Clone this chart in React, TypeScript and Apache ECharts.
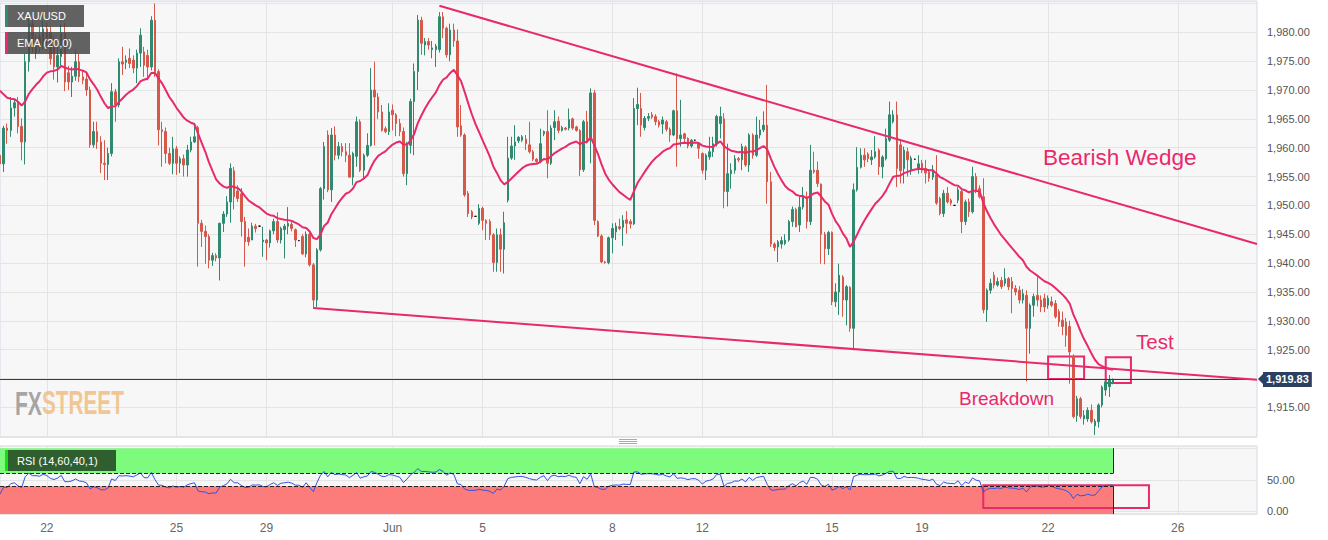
import React, { useEffect, useRef } from "react";
import * as echarts from "echarts";

// 2-hour candles: [open, close, low, high]
const candles: number[][] = [
  [1958.7, 1957.2, 1954.4, 1960.2], [1957.2, 1963.4, 1955.8, 1963.8], [1963.4, 1963.0, 1960.7, 1964.2], [1963.0, 1966.9, 1961.9, 1968.8],
  [1966.9, 1967.8, 1965.4, 1968.5], [1967.8, 1963.7, 1962.5, 1968.8], [1963.7, 1961.0, 1957.8, 1965.1], [1961.0, 1974.9, 1957.1, 1976.3],
  [1974.9, 1981.5, 1973.2, 1983.0], [1981.5, 1978.1, 1976.5, 1982.8], [1976.5, 1978.0, 1975.4, 1979.5], [1979.2, 1977.4, 1976.6, 1981.0],
  [1977.8, 1980.6, 1977.0, 1982.0], [1980.6, 1979.0, 1976.8, 1981.6], [1980.0, 1975.4, 1974.4, 1981.0], [1977.4, 1974.0, 1971.8, 1979.4],
  [1974.0, 1976.0, 1971.3, 1978.0], [1975.8, 1979.8, 1974.2, 1981.4], [1979.8, 1971.4, 1969.8, 1981.6], [1973.0, 1971.4, 1970.0, 1974.2],
  [1971.4, 1972.4, 1968.8, 1974.0], [1972.4, 1974.9, 1971.6, 1977.0], [1974.9, 1972.3, 1971.4, 1976.3], [1972.3, 1971.7, 1971.0, 1973.4],
  [1971.9, 1970.0, 1969.0, 1973.0], [1970.0, 1960.5, 1960.0, 1970.6], [1960.5, 1962.8, 1960.0, 1964.5], [1962.8, 1961.0, 1959.8, 1964.5],
  [1961.0, 1957.3, 1955.6, 1962.0], [1957.3, 1957.1, 1954.4, 1961.3], [1957.1, 1959.0, 1954.4, 1960.0], [1959.0, 1969.7, 1958.5, 1971.2],
  [1969.7, 1967.4, 1964.5, 1970.2], [1967.4, 1974.9, 1967.0, 1975.5], [1974.9, 1974.5, 1972.6, 1977.5], [1974.8, 1975.2, 1973.6, 1976.0],
  [1975.5, 1974.6, 1973.8, 1977.2], [1975.2, 1973.8, 1972.9, 1976.0], [1973.8, 1976.4, 1971.2, 1977.0], [1976.4, 1979.5, 1974.0, 1980.7],
  [1976.6, 1974.3, 1972.3, 1977.5], [1976.0, 1974.0, 1971.7, 1977.0], [1974.0, 1982.1, 1973.4, 1982.8], [1982.1, 1973.2, 1972.3, 1985.0],
  [1973.2, 1963.1, 1960.4, 1973.6], [1963.1, 1962.8, 1956.7, 1964.5], [1962.8, 1959.0, 1957.3, 1963.5], [1959.0, 1957.3, 1957.0, 1960.0],
  [1957.3, 1959.8, 1955.4, 1961.9], [1959.8, 1957.3, 1955.3, 1960.3], [1957.3, 1958.1, 1955.6, 1958.5], [1958.1, 1957.0, 1955.0, 1958.8],
  [1957.0, 1959.6, 1955.0, 1960.5], [1959.6, 1961.0, 1959.2, 1961.9], [1961.0, 1961.9, 1960.8, 1963.7], [1963.5, 1946.9, 1939.4, 1963.8],
  [1946.9, 1945.5, 1942.8, 1947.5], [1945.5, 1944.6, 1939.9, 1946.5], [1944.6, 1940.5, 1939.1, 1945.0], [1940.5, 1941.3, 1939.5, 1941.8],
  [1941.3, 1940.9, 1940.3, 1941.7], [1940.9, 1946.9, 1937.0, 1947.0], [1946.9, 1948.5, 1945.4, 1949.0], [1948.5, 1950.6, 1948.0, 1951.6],
  [1950.6, 1956.4, 1947.0, 1957.3], [1956.0, 1951.5, 1949.3, 1956.7], [1952.5, 1951.2, 1950.6, 1953.5], [1952.0, 1947.2, 1944.6, 1953.0],
  [1947.2, 1943.7, 1939.4, 1948.0], [1944.5, 1943.7, 1943.0, 1946.0], [1944.0, 1946.4, 1944.0, 1947.0], [1946.4, 1946.0, 1945.3, 1946.8],
  [1946.4, 1946.4, 1946.3, 1946.5], [1943.7, 1944.0, 1941.1, 1946.3], [1944.0, 1943.5, 1940.5, 1944.2], [1943.5, 1945.6, 1942.7, 1945.8],
  [1945.6, 1947.2, 1945.0, 1947.7], [1947.2, 1944.0, 1943.5, 1948.8], [1944.0, 1946.0, 1943.4, 1946.3], [1945.8, 1946.4, 1940.8, 1946.8],
  [1946.4, 1946.9, 1945.0, 1949.7], [1946.7, 1946.0, 1945.5, 1947.2], [1945.8, 1944.0, 1942.8, 1946.0], [1943.9, 1943.9, 1943.8, 1944.0],
  [1944.6, 1941.6, 1941.4, 1945.0], [1941.6, 1945.0, 1941.0, 1945.5], [1945.0, 1939.7, 1939.4, 1945.3], [1939.7, 1933.6, 1932.1, 1940.0],
  [1933.6, 1942.3, 1932.4, 1942.6], [1942.3, 1952.9, 1942.0, 1953.2], [1952.9, 1960.2, 1951.0, 1961.0], [1962.2, 1952.7, 1952.3, 1963.0],
  [1952.7, 1962.2, 1950.6, 1963.4], [1962.2, 1958.7, 1957.8, 1963.7], [1958.7, 1960.2, 1958.0, 1961.0], [1960.2, 1959.3, 1958.5, 1960.8],
  [1959.3, 1958.7, 1957.5, 1960.8], [1958.7, 1954.9, 1954.9, 1960.8], [1954.9, 1959.0, 1953.5, 1959.3], [1958.5, 1964.5, 1956.7, 1965.4],
  [1964.5, 1956.1, 1955.8, 1964.9], [1956.1, 1958.7, 1954.4, 1959.0], [1958.7, 1960.4, 1958.4, 1962.5], [1960.4, 1970.0, 1960.2, 1973.8],
  [1970.0, 1968.8, 1960.4, 1974.9], [1968.8, 1966.2, 1965.0, 1969.5], [1966.2, 1963.0, 1962.8, 1967.4], [1963.3, 1962.8, 1962.5, 1963.7],
  [1962.8, 1966.2, 1962.2, 1967.7], [1966.5, 1965.7, 1963.0, 1967.5], [1965.7, 1964.2, 1962.0, 1966.0], [1964.2, 1962.8, 1962.0, 1965.0],
  [1962.8, 1955.5, 1955.0, 1963.5], [1955.5, 1960.4, 1953.5, 1961.0], [1960.4, 1968.0, 1959.0, 1968.5], [1968.0, 1973.2, 1958.7, 1974.6],
  [1973.2, 1982.1, 1970.0, 1983.0], [1982.1, 1978.1, 1976.1, 1982.7], [1977.8, 1978.4, 1976.0, 1979.0], [1978.4, 1977.8, 1977.0, 1979.0],
  [1977.0, 1977.3, 1975.5, 1978.5], [1977.0, 1977.6, 1974.0, 1978.0], [1977.0, 1982.7, 1976.5, 1983.5], [1982.7, 1980.7, 1979.0, 1983.5],
  [1980.7, 1976.1, 1975.6, 1981.0], [1976.1, 1980.4, 1975.0, 1981.5], [1980.4, 1978.5, 1977.5, 1981.5], [1978.5, 1963.6, 1961.9, 1980.5],
  [1963.8, 1962.2, 1961.9, 1967.4], [1962.2, 1951.8, 1951.5, 1962.5], [1952.1, 1948.6, 1948.0, 1952.5], [1948.9, 1948.0, 1947.6, 1949.2],
  [1948.1, 1948.1, 1948.0, 1948.2], [1946.9, 1949.5, 1946.6, 1950.2], [1949.5, 1947.4, 1945.7, 1949.8], [1947.4, 1946.9, 1944.0, 1947.6],
  [1947.2, 1944.9, 1944.0, 1947.6], [1944.9, 1940.1, 1938.5, 1945.2], [1940.1, 1944.9, 1938.5, 1946.0], [1944.9, 1942.4, 1938.5, 1946.0],
  [1942.4, 1947.0, 1938.2, 1948.9], [1950.9, 1958.2, 1950.5, 1961.9], [1958.2, 1960.3, 1957.9, 1961.9], [1960.3, 1961.0, 1957.9, 1963.9],
  [1961.2, 1961.8, 1960.8, 1962.0], [1961.3, 1961.9, 1961.0, 1962.2], [1961.5, 1960.7, 1959.6, 1962.2], [1960.5, 1959.3, 1959.0, 1964.5],
  [1959.3, 1958.0, 1957.7, 1959.6], [1958.0, 1957.6, 1957.4, 1958.2], [1957.6, 1960.7, 1957.3, 1963.3], [1962.4, 1962.8, 1962.0, 1963.0],
  [1962.8, 1957.3, 1954.7, 1966.5], [1957.3, 1963.4, 1957.0, 1963.9], [1963.5, 1964.5, 1961.3, 1966.5], [1964.6, 1963.0, 1962.5, 1965.4],
  [1963.0, 1963.5, 1962.8, 1963.8], [1963.4, 1963.2, 1963.0, 1963.6], [1963.4, 1964.9, 1963.0, 1966.8], [1965.0, 1963.4, 1963.1, 1965.2],
  [1963.6, 1963.0, 1962.8, 1963.8], [1963.0, 1956.2, 1955.1, 1963.2], [1956.2, 1964.5, 1955.8, 1964.8], [1964.5, 1961.3, 1960.7, 1966.4],
  [1961.3, 1969.5, 1957.3, 1970.3], [1969.5, 1947.4, 1946.6, 1970.0], [1947.2, 1944.7, 1944.5, 1947.4], [1944.7, 1940.2, 1940.0, 1945.0],
  [1940.2, 1940.1, 1939.9, 1940.4], [1940.1, 1944.4, 1939.8, 1944.6], [1944.4, 1946.0, 1941.7, 1946.9], [1945.4, 1946.4, 1944.0, 1947.0],
  [1946.3, 1946.0, 1945.7, 1947.7], [1946.2, 1947.4, 1943.0, 1948.3], [1947.5, 1946.9, 1945.1, 1949.0], [1947.2, 1946.8, 1946.0, 1947.6],
  [1946.8, 1966.8, 1946.6, 1968.6], [1966.8, 1967.5, 1963.9, 1970.4], [1966.8, 1963.9, 1961.9, 1969.5], [1963.5, 1965.1, 1963.0, 1965.5],
  [1965.1, 1965.4, 1964.6, 1966.0], [1965.7, 1965.3, 1965.0, 1966.2], [1965.4, 1964.5, 1963.9, 1965.8], [1964.5, 1963.9, 1963.5, 1964.8],
  [1964.1, 1964.8, 1962.4, 1965.4], [1964.5, 1963.2, 1962.8, 1964.8], [1963.2, 1962.2, 1961.0, 1963.5], [1962.2, 1966.4, 1962.0, 1966.6],
  [1966.4, 1961.5, 1956.7, 1972.9], [1961.6, 1962.2, 1960.2, 1968.3], [1962.4, 1961.6, 1961.0, 1962.6], [1961.6, 1960.3, 1959.9, 1961.8],
  [1960.3, 1961.3, 1960.0, 1961.5], [1961.3, 1961.3, 1961.2, 1961.4], [1960.7, 1959.9, 1958.1, 1961.0], [1959.0, 1956.1, 1955.5, 1959.2],
  [1956.1, 1958.7, 1954.4, 1959.0], [1958.4, 1959.3, 1957.9, 1961.9], [1959.3, 1960.7, 1958.4, 1961.9], [1960.7, 1965.4, 1960.2, 1965.7],
  [1964.2, 1965.4, 1961.6, 1967.1], [1965.0, 1952.4, 1949.5, 1966.0], [1952.4, 1955.5, 1949.8, 1960.7], [1955.5, 1956.1, 1952.9, 1957.3],
  [1956.1, 1958.1, 1955.5, 1958.7], [1958.1, 1957.9, 1957.5, 1958.4], [1957.9, 1960.2, 1956.1, 1960.7], [1960.1, 1957.0, 1956.7, 1960.4],
  [1957.0, 1962.2, 1955.8, 1962.5], [1962.2, 1958.7, 1958.1, 1962.5], [1958.7, 1962.2, 1958.4, 1965.4], [1962.2, 1963.1, 1961.6, 1964.8],
  [1963.1, 1963.9, 1962.7, 1966.3], [1963.9, 1954.1, 1950.3, 1970.9], [1954.1, 1943.3, 1942.8, 1955.8], [1943.3, 1942.7, 1942.1, 1943.6],
  [1942.8, 1943.7, 1940.2, 1944.0], [1943.3, 1943.9, 1942.5, 1944.6], [1943.4, 1944.0, 1943.1, 1945.0], [1944.0, 1947.2, 1943.7, 1947.5],
  [1947.2, 1949.3, 1946.3, 1949.8], [1949.3, 1946.3, 1946.2, 1949.6], [1946.6, 1949.7, 1945.4, 1951.5], [1949.7, 1951.5, 1949.3, 1953.2],
  [1951.5, 1947.2, 1946.0, 1952.4], [1947.2, 1956.1, 1946.6, 1960.5], [1956.1, 1955.8, 1955.5, 1959.3], [1956.1, 1953.8, 1953.2, 1957.6],
  [1953.7, 1945.0, 1939.9, 1953.8], [1945.0, 1942.5, 1939.8, 1945.4], [1942.5, 1945.3, 1941.4, 1945.6], [1945.3, 1933.3, 1932.7, 1945.5],
  [1933.3, 1935.0, 1932.4, 1936.5], [1935.0, 1937.9, 1931.0, 1939.9], [1937.6, 1933.6, 1930.7, 1937.9], [1933.6, 1935.9, 1929.2, 1936.2],
  [1935.8, 1928.7, 1928.1, 1936.0], [1928.7, 1952.7, 1924.9, 1953.8], [1952.7, 1956.6, 1952.4, 1960.1], [1956.6, 1958.7, 1956.4, 1959.9],
  [1958.7, 1957.9, 1956.7, 1959.9], [1958.9, 1958.1, 1957.5, 1959.2], [1957.9, 1958.4, 1957.0, 1959.6], [1958.4, 1959.3, 1958.1, 1962.0],
  [1959.6, 1956.7, 1955.3, 1959.9], [1956.7, 1958.4, 1954.7, 1958.7], [1958.1, 1961.6, 1957.8, 1963.3], [1961.3, 1965.7, 1961.0, 1968.0],
  [1964.5, 1965.7, 1964.2, 1966.5], [1965.7, 1956.4, 1953.2, 1968.0], [1960.5, 1956.0, 1953.8, 1961.3], [1956.4, 1959.6, 1953.8, 1960.2],
  [1959.3, 1957.9, 1955.0, 1960.0], [1956.1, 1958.2, 1955.3, 1958.6], [1958.0, 1958.0, 1957.9, 1958.1], [1956.4, 1957.2, 1955.5, 1958.7],
  [1957.3, 1956.1, 1955.6, 1957.9], [1956.4, 1955.6, 1953.8, 1957.9], [1955.8, 1954.7, 1954.1, 1956.3], [1954.9, 1956.1, 1954.4, 1957.0],
  [1955.3, 1950.4, 1950.1, 1958.7], [1951.2, 1948.6, 1948.3, 1951.5], [1948.6, 1952.1, 1948.0, 1952.7], [1952.1, 1950.6, 1950.3, 1953.2],
  [1950.9, 1950.4, 1950.0, 1951.2], [1950.0, 1950.0, 1949.9, 1950.1], [1950.9, 1952.7, 1950.4, 1953.2], [1952.4, 1947.2, 1945.2, 1953.0],
  [1947.2, 1950.6, 1946.6, 1951.0], [1950.6, 1948.9, 1948.0, 1951.2], [1948.9, 1955.0, 1948.6, 1956.7], [1955.0, 1952.4, 1952.1, 1955.6],
  [1952.9, 1951.5, 1951.2, 1953.5], [1951.5, 1931.9, 1931.3, 1954.7], [1931.9, 1935.3, 1929.8, 1935.6], [1935.3, 1936.5, 1934.7, 1937.3],
  [1937.9, 1936.2, 1935.6, 1938.5], [1936.2, 1936.8, 1935.9, 1937.5], [1937.0, 1935.9, 1935.5, 1937.6], [1936.5, 1937.3, 1936.0, 1939.1],
  [1937.3, 1935.9, 1935.3, 1937.6], [1936.8, 1935.6, 1931.3, 1937.6], [1935.6, 1935.0, 1934.4, 1936.2], [1935.3, 1933.6, 1933.0, 1936.0],
  [1933.6, 1934.7, 1933.0, 1935.5], [1934.4, 1928.7, 1919.5, 1935.3], [1928.7, 1932.7, 1924.3, 1933.0], [1932.7, 1934.2, 1930.7, 1934.7],
  [1934.4, 1933.6, 1932.5, 1937.6], [1933.6, 1932.4, 1931.5, 1934.4], [1933.9, 1932.4, 1931.5, 1934.7], [1932.7, 1933.9, 1932.1, 1934.4],
  [1933.3, 1932.7, 1932.4, 1934.2], [1933.0, 1930.7, 1930.4, 1933.6], [1931.6, 1929.8, 1929.0, 1932.0], [1930.1, 1929.0, 1927.5, 1931.6],
  [1929.8, 1927.5, 1925.5, 1930.5], [1929.0, 1924.6, 1919.1, 1930.0], [1923.8, 1913.4, 1913.1, 1924.2], [1913.6, 1916.5, 1912.5, 1917.0],
  [1916.5, 1913.4, 1913.0, 1916.8], [1913.0, 1913.6, 1912.0, 1914.5], [1913.0, 1914.5, 1912.5, 1915.0], [1914.5, 1912.5, 1912.2, 1915.5],
  [1911.8, 1912.6, 1910.2, 1913.0], [1912.5, 1915.4, 1911.5, 1915.7], [1915.4, 1918.5, 1915.0, 1918.8], [1918.0, 1919.4, 1917.0, 1920.5],
  [1918.6, 1919.8, 1916.8, 1920.6], [1919.4, 1919.83, 1919.0, 1920.0],
];

const slotCount = 350; // candle slots on the time axis, incl. empty future slots
const tickIndex = [13, 49, 74, 109, 134, 170, 195, 231, 256, 291, 327];
const tickText = ["22", "25", "29", "Jun", "5", "8", "12", "15", "19", "22", "26"];

const emaPeriod = 20;
const emaSeed = 1971.2; // EMA value at the left edge
const rsiPeriod = 14;
const rsiSeedGain = 0.8;
const rsiSeedLoss = 2.0;
const rsiHigh = 60;
const rsiLow = 40;
const lastPrice = 1919.83;

const upperWedge = [[122, 1984.6], [349, 1943.3]];
const lowerWedge = [[87, 1932.2], [349, 1919.8]];
const breakdownBox = [[291, 1923.8], [301, 1919.9]];
const testBox = [[307, 1923.7], [314, 1919.2]];
const rsiBox = [[273, 41.6], [319, 5.4]];

const priceRange = [1909.86, 1985.43];
const rsiRange = [-4, 103.5];

const PINK = "#e8296b";
const UP = "#2f8a70";
const DOWN = "#d6584a";
const FONT = '"Liberation Sans", Arial, Helvetica, sans-serif';

function calcEma(closes: number[], period: number, seed: number) {
  const k = 2 / (period + 1);
  let prev = seed;
  return closes.map((c) => {
    prev = prev + k * (c - prev);
    return +prev.toFixed(2);
  });
}

function calcRsi(data: number[][], period: number, g0: number, l0: number) {
  let ag = g0;
  let al = l0;
  let prev = data[0][0];
  return data.map((d) => {
    const ch = d[1] - prev;
    prev = d[1];
    ag = (ag * (period - 1) + Math.max(ch, 0)) / period;
    al = (al * (period - 1) + Math.max(-ch, 0)) / period;
    return +(100 - 100 / (1 + ag / al)).toFixed(2);
  });
}

export default function App() {
  const ref = useRef<HTMLDivElement>(null);

  useEffect(() => {
    if (!ref.current) return;
    const chart = echarts.init(ref.current, null, { renderer: "svg" });

    const categories = Array.from({ length: slotCount }, (_, i) => String(i));
    const tickMap: Record<number, string> = {};
    tickIndex.forEach((t, i) => (tickMap[t] = tickText[i]));
    const isTick = (index: number) => tickMap[index] !== undefined;
    const closes = candles.map((c) => c[1]);
    const emaValues = calcEma(closes, emaPeriod, emaSeed);
    const rsiValues = calcRsi(candles, rsiPeriod, rsiSeedGain, rsiSeedLoss);
    const lastIdx = candles.length - 1;
    const gridLine = { show: true, interval: isTick, lineStyle: { color: "#e4e4e4", width: 1 } };

    const option: any = {
      animation: false,
      backgroundColor: "#ffffff",
      textStyle: { fontFamily: FONT },
      grid: [
        { left: 0, top: 1, width: 1257, height: 436, show: true, backgroundColor: "#f7f7f7", borderColor: "#d3d9e6", borderWidth: 1 },
        { left: 0, top: 446, width: 1257, height: 68, show: true, backgroundColor: "#f7f7f7", borderColor: "#d3d9e6", borderWidth: 1 },
      ],
      xAxis: [
        {
          type: "category", gridIndex: 0, data: categories, boundaryGap: false,
          axisLine: { show: false }, axisTick: { show: false }, axisLabel: { show: false },
          splitLine: gridLine,
        },
        {
          type: "category", gridIndex: 1, data: categories, boundaryGap: false,
          axisLine: { show: false }, axisTick: { show: false },
          axisLabel: {
            show: true, interval: isTick, formatter: (_v: string, i: number) => tickMap[i] || "",
            color: "#666", fontSize: 12, margin: 8, fontFamily: FONT,
          },
          splitLine: gridLine,
        },
      ],
      yAxis: [
        {
          type: "value", gridIndex: 0, position: "right", min: priceRange[0], max: priceRange[1], splitNumber: 15,
          axisLine: { show: false }, axisTick: { show: false },
          axisLabel: {
            color: "#555", fontSize: 11, margin: 10, fontFamily: FONT,
            formatter: (v: number) => (v < 1912 || v > 1983 ? "" : v.toLocaleString("en-US", { minimumFractionDigits: 2, maximumFractionDigits: 2 })),
          },
          splitLine: { lineStyle: { color: "#e4e4e4", width: 1 } },
        },
        {
          type: "value", gridIndex: 1, position: "right", min: rsiRange[0], max: rsiRange[1], splitNumber: 2,
          axisLine: { show: false }, axisTick: { show: false },
          axisLabel: {
            color: "#555", fontSize: 11, margin: 10, fontFamily: FONT,
            formatter: (v: number) => (v === 0 || v === 50 ? v.toFixed(2) : ""),
          },
          splitLine: { lineStyle: { color: "#e4e4e4", width: 1 } },
        },
      ],
      series: [
        {
          type: "candlestick", name: "XAU/USD", xAxisIndex: 0, yAxisIndex: 0, data: candles, barWidth: 2,
          itemStyle: { color: UP, color0: DOWN, borderColor: UP, borderColor0: DOWN, borderColorDoji: "#111", borderWidth: 1 },
          markLine: {
            symbol: ["none", "none"], silent: true, animation: false,
            label: { show: false },
            lineStyle: { color: PINK, width: 2, type: "solid" },
            data: [
              { yAxis: lastPrice, lineStyle: { color: "#2b3c5a", width: 1, type: "solid" },
                label: { show: true, position: "end", distance: 6, formatter: "1,919.83", color: "#fff", fontWeight: "bold",
                  fontSize: 11, fontFamily: FONT, backgroundColor: "#2b3f60", padding: [2, 3, 2, 3] } },
              [{ coord: [...upperWedge[0]] }, { coord: [...upperWedge[1]] }],
              [{ coord: [...lowerWedge[0]] }, { coord: [...lowerWedge[1]] }],
            ],
          },
          markArea: {
            silent: true,
            itemStyle: { color: "rgba(0,0,0,0)", borderColor: PINK, borderWidth: 2 },
            data: [
              [{ coord: [...breakdownBox[0]] }, { coord: [...breakdownBox[1]] }],
              [{ coord: [...testBox[0]] }, { coord: [...testBox[1]] }],
            ],
          },
          z: 2,
        },
        {
          type: "line", name: "EMA (20,0)", xAxisIndex: 0, yAxisIndex: 0, data: emaValues, symbol: "none",
          lineStyle: { color: PINK, width: 2 }, z: 3,
        },
        {
          type: "line", name: "RSI", xAxisIndex: 1, yAxisIndex: 1, data: rsiValues, symbol: "none",
          lineStyle: { color: "#3252e6", width: 1 }, z: 3,
          markArea: {
            silent: true,
            data: [
              [{ coord: [0, rsiHigh], itemStyle: { color: "#7dfb7d" } }, { coord: [lastIdx, 100] }],
              [{ coord: [0, rsiRange[0]], itemStyle: { color: "#fc7c7c" } }, { coord: [lastIdx, rsiLow] }],
              [{ coord: [...rsiBox[0]], itemStyle: { color: "rgba(0,0,0,0)", borderColor: PINK, borderWidth: 2 } }, { coord: [...rsiBox[1]] }],
            ],
          },
          markLine: {
            symbol: ["none", "none"], silent: true, label: { show: false },
            lineStyle: { color: "#222", width: 1, type: "dashed" },
            data: [
              [{ coord: [0, rsiHigh] }, { coord: [lastIdx, rsiHigh] }],
              [{ coord: [0, rsiLow] }, { coord: [lastIdx, rsiLow] }],
              [{ coord: [lastIdx, rsiHigh], lineStyle: { type: "solid" } }, { coord: [lastIdx, 100] }],
              [{ coord: [lastIdx, rsiRange[0]], lineStyle: { type: "solid" } }, { coord: [lastIdx, rsiLow] }],
            ],
          },
        },
      ],
      graphic: [
        { type: "rect", shape: { x: 5, y: 5, width: 79, height: 22 }, style: { fill: "rgba(72,72,72,0.85)" }, z: 100 },
        { type: "rect", shape: { x: 5, y: 5, width: 3, height: 22 }, style: { fill: UP }, z: 101 },
        { type: "text", x: 17, y: 16, z: 101, style: { text: "XAU/USD", fill: "#fff", font: `11px ${FONT}`, verticalAlign: "middle", textVerticalAlign: "middle" } },
        { type: "rect", shape: { x: 5, y: 32, width: 85, height: 22 }, style: { fill: "rgba(72,72,72,0.85)" }, z: 100 },
        { type: "rect", shape: { x: 5, y: 32, width: 3, height: 22 }, style: { fill: PINK }, z: 101 },
        { type: "text", x: 17, y: 43, z: 101, style: { text: "EMA (20,0)", fill: "#fff", font: `11px ${FONT}`, verticalAlign: "middle", textVerticalAlign: "middle" } },
        { type: "rect", shape: { x: 5, y: 450, width: 111, height: 21 }, style: { fill: "#2f5f2f" }, z: 100 },
        { type: "rect", shape: { x: 5, y: 450, width: 3, height: 21 }, style: { fill: "#14e014" }, z: 101 },
        { type: "text", x: 17, y: 461, z: 101, style: { text: "RSI (14,60,40,1)", fill: "#fff", font: `11px ${FONT}`, verticalAlign: "middle", textVerticalAlign: "middle" } },
        { type: "text", x: 15, y: 403, scaleX: 0.62, z: 50, style: { text: "FX", fill: "rgba(150,150,150,0.85)", font: `bold 34px ${FONT}`, verticalAlign: "middle", textVerticalAlign: "middle" } },
        { type: "text", x: 42, y: 403, scaleX: 0.61, z: 50, style: { text: "STREET", fill: "rgba(240,190,130,0.85)", font: `bold 34px ${FONT}`, verticalAlign: "middle", textVerticalAlign: "middle" } },
        { type: "text", x: 1043, y: 157, z: 60, style: { text: "Bearish Wedge", fill: PINK, font: `22.5px ${FONT}`, verticalAlign: "middle", textVerticalAlign: "middle" } },
        { type: "text", x: 1136, y: 341, z: 60, style: { text: "Test", fill: PINK, font: `20.5px ${FONT}`, verticalAlign: "middle", textVerticalAlign: "middle" } },
        { type: "text", x: 959, y: 398, z: 60, style: { text: "Breakdown", fill: PINK, font: `19px ${FONT}`, verticalAlign: "middle", textVerticalAlign: "middle" } },
        { type: "polygon", shape: { points: [[1258, 379], [1264, 373], [1264, 385]] }, style: { fill: "#2b3f60" }, z: 60 },
        { type: "line", shape: { x1: 619, y1: 439.5, x2: 637, y2: 439.5 }, style: { stroke: "#aaa", lineWidth: 1 }, z: 60 },
        { type: "line", shape: { x1: 619, y1: 441.5, x2: 637, y2: 441.5 }, style: { stroke: "#aaa", lineWidth: 1 }, z: 60 },
        { type: "line", shape: { x1: 619, y1: 443.5, x2: 637, y2: 443.5 }, style: { stroke: "#aaa", lineWidth: 1 }, z: 60 },
      ],
    };

    chart.setOption(option);
    return () => chart.dispose();
  }, []);

  return (
    <div
      ref={ref}
      style={{ position: "fixed", left: 0, top: 0, width: 1328, height: 540, background: "#fff" }}
    />
  );
}
